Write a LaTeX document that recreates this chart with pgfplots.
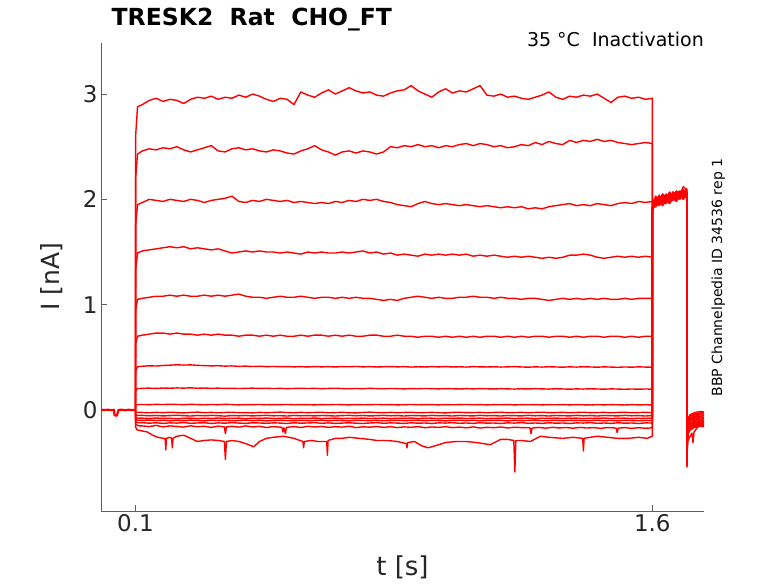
\documentclass[border=0pt]{standalone}
\usepackage{fontspec}
\setmainfont{DejaVu Sans}
\usepackage{pgfplots}
\usepackage{pgfplotstable}
\pgfplotsset{compat=1.18}
\definecolor{axgray}{RGB}{95,95,95}
\definecolor{txt}{RGB}{38,38,38}
\pgfplotsset{tr/.style={red, solid, line width=1.4pt, line join=round, mark=none}}
\pgfplotstableread{
t a b c d e f g h i j k l m n
0.1 0 0 0 0 0 0 0 0 0 0 0 0 0 0
0.1005 2.60 2.20 1.75 1.33 0.95 0.63 0.37 0.18 0.045 -0.02 -0.045 -0.07 -0.09 -0.11
0.106 2.88 2.43 1.95 1.49 1.05 0.70 0.41 0.203 0.051 -0.024 -0.053 -0.079 -0.098 -0.122
0.12 2.90 2.46 1.97 1.51 1.06 0.71 0.415 0.205 0.052 -0.024 -0.052 -0.078 -0.099 -0.121
0.14 2.94 2.48 2.00 1.52 1.07 0.72 0.419 0.207 0.050 -0.027 -0.056 -0.082 -0.096 -0.126
0.16 2.96 2.47 1.99 1.53 1.08 0.73 0.417 0.204 0.053 -0.023 -0.053 -0.077 -0.101 -0.122
0.18 2.93 2.49 1.98 1.54 1.08 0.73 0.422 0.208 0.051 -0.026 -0.057 -0.081 -0.098 -0.128
0.20 2.95 2.48 2.00 1.55 1.09 0.72 0.425 0.206 0.054 -0.022 -0.054 -0.079 -0.103 -0.123
0.22 2.94 2.50 1.99 1.54 1.08 0.73 0.429 0.209 0.052 -0.025 -0.051 -0.084 -0.099 -0.125
0.24 2.91 2.47 1.98 1.55 1.09 0.72 0.426 0.207 0.050 -0.028 -0.055 -0.080 -0.102 -0.120
0.26 2.95 2.45 2.00 1.53 1.08 0.72 0.428 0.210 0.053 -0.024 -0.058 -0.078 -0.097 -0.127
0.28 2.97 2.47 1.99 1.54 1.08 0.71 0.423 0.206 0.051 -0.021 -0.053 -0.083 -0.100 -0.124
0.30 2.96 2.49 1.97 1.53 1.09 0.72 0.421 0.208 0.049 -0.026 -0.056 -0.079 -0.104 -0.122
0.32 2.98 2.51 1.99 1.52 1.08 0.71 0.418 0.205 0.052 -0.023 -0.052 -0.081 -0.098 -0.129
0.34 2.95 2.46 2.00 1.53 1.09 0.72 0.420 0.207 0.050 -0.027 -0.055 -0.077 -0.101 -0.123
0.36 2.97 2.45 2.01 1.51 1.08 0.71 0.416 0.204 0.053 -0.024 -0.059 -0.082 -0.099 -0.126
0.38 2.96 2.48 2.03 1.49 1.09 0.71 0.418 0.206 0.051 -0.022 -0.054 -0.080 -0.103 -0.121
0.40 2.99 2.49 1.98 1.50 1.10 0.70 0.414 0.203 0.048 -0.026 -0.056 -0.078 -0.100 -0.125
0.42 2.97 2.47 1.97 1.51 1.08 0.71 0.416 0.205 0.051 -0.025 -0.053 -0.083 -0.097 -0.128
0.44 3.00 2.48 1.99 1.50 1.07 0.71 0.412 0.207 0.050 -0.028 -0.057 -0.079 -0.102 -0.122
0.46 2.98 2.46 1.98 1.51 1.07 0.70 0.415 0.204 0.052 -0.023 -0.054 -0.081 -0.099 -0.124
0.48 2.95 2.45 2.00 1.50 1.06 0.71 0.411 0.206 0.049 -0.026 -0.052 -0.077 -0.104 -0.127
0.50 2.93 2.47 1.99 1.50 1.07 0.70 0.413 0.203 0.051 -0.024 -0.056 -0.082 -0.100 -0.123
0.52 2.96 2.46 1.98 1.49 1.08 0.71 0.410 0.205 0.050 -0.021 -0.055 -0.080 -0.098 -0.125
0.54 2.95 2.44 1.99 1.50 1.07 0.70 0.412 0.202 0.052 -0.025 -0.058 -0.078 -0.101 -0.129
0.56 2.90 2.43 1.97 1.49 1.07 0.70 0.409 0.204 0.049 -0.027 -0.053 -0.084 -0.103 -0.122
0.58 3.02 2.46 1.98 1.48 1.08 0.71 0.411 0.206 0.051 -0.023 -0.056 -0.079 -0.099 -0.126
0.60 2.99 2.48 1.97 1.50 1.07 0.70 0.408 0.203 0.050 -0.026 -0.054 -0.081 -0.102 -0.124
0.62 2.97 2.51 1.96 1.49 1.06 0.71 0.412 0.205 0.048 -0.024 -0.057 -0.077 -0.100 -0.121
0.64 3.01 2.47 1.97 1.50 1.07 0.71 0.409 0.202 0.051 -0.022 -0.053 -0.082 -0.097 -0.127
0.66 3.04 2.45 1.96 1.49 1.07 0.70 0.411 0.204 0.049 -0.027 -0.055 -0.080 -0.103 -0.123
0.68 3.00 2.42 1.98 1.49 1.06 0.71 0.408 0.206 0.052 -0.025 -0.058 -0.078 -0.099 -0.128
0.70 3.03 2.45 1.97 1.50 1.07 0.70 0.412 0.203 0.050 -0.023 -0.054 -0.083 -0.101 -0.125
0.72 3.06 2.46 1.99 1.49 1.06 0.71 0.410 0.201 0.048 -0.026 -0.052 -0.079 -0.104 -0.122
0.74 3.03 2.44 1.98 1.50 1.07 0.70 0.413 0.204 0.051 -0.028 -0.056 -0.081 -0.098 -0.126
0.76 3.01 2.46 2.00 1.51 1.06 0.70 0.409 0.202 0.049 -0.024 -0.053 -0.077 -0.100 -0.129
0.78 3.02 2.45 1.99 1.49 1.06 0.71 0.411 0.205 0.050 -0.021 -0.057 -0.082 -0.102 -0.124
0.80 2.99 2.43 2.00 1.50 1.05 0.71 0.408 0.203 0.052 -0.025 -0.055 -0.080 -0.099 -0.121
0.82 2.98 2.45 1.98 1.48 1.04 0.70 0.410 0.201 0.049 -0.027 -0.052 -0.078 -0.103 -0.127
0.84 3.01 2.50 1.97 1.49 1.05 0.70 0.412 0.204 0.051 -0.023 -0.056 -0.083 -0.101 -0.123
0.86 3.03 2.49 1.95 1.47 1.04 0.71 0.409 0.202 0.048 -0.026 -0.054 -0.079 -0.098 -0.125
0.88 3.04 2.51 1.94 1.48 1.06 0.70 0.411 0.200 0.050 -0.024 -0.058 -0.081 -0.102 -0.128
0.90 3.08 2.50 1.93 1.47 1.07 0.70 0.407 0.203 0.052 -0.022 -0.053 -0.077 -0.100 -0.122
0.92 3.03 2.52 1.96 1.46 1.08 0.69 0.410 0.201 0.049 -0.027 -0.055 -0.082 -0.097 -0.126
0.94 3.00 2.50 1.98 1.48 1.07 0.70 0.408 0.204 0.051 -0.025 -0.057 -0.080 -0.103 -0.124
0.96 2.97 2.51 1.96 1.47 1.06 0.70 0.411 0.202 0.050 -0.023 -0.052 -0.078 -0.099 -0.129
0.98 3.02 2.49 1.95 1.48 1.07 0.69 0.409 0.200 0.048 -0.026 -0.056 -0.083 -0.101 -0.123
1.00 3.05 2.51 1.96 1.47 1.06 0.70 0.412 0.203 0.051 -0.028 -0.054 -0.079 -0.104 -0.125
1.02 3.01 2.50 1.95 1.48 1.06 0.69 0.408 0.201 0.049 -0.024 -0.058 -0.081 -0.100 -0.121
1.04 3.03 2.52 1.94 1.47 1.07 0.70 0.410 0.199 0.050 -0.022 -0.053 -0.077 -0.098 -0.127
1.06 3.02 2.53 1.95 1.48 1.07 0.69 0.407 0.202 0.052 -0.026 -0.055 -0.082 -0.102 -0.124
1.08 3.05 2.51 1.94 1.46 1.08 0.70 0.411 0.200 0.049 -0.025 -0.057 -0.080 -0.099 -0.128
1.10 3.08 2.53 1.93 1.47 1.07 0.69 0.409 0.203 0.051 -0.023 -0.052 -0.078 -0.103 -0.122
1.12 2.99 2.52 1.94 1.46 1.07 0.70 0.408 0.201 0.048 -0.027 -0.056 -0.083 -0.101 -0.126
1.14 2.98 2.50 1.93 1.47 1.06 0.70 0.410 0.199 0.050 -0.024 -0.054 -0.079 -0.098 -0.124
1.16 3.00 2.51 1.92 1.46 1.07 0.69 0.407 0.202 0.049 -0.022 -0.058 -0.081 -0.100 -0.129
1.18 2.97 2.49 1.93 1.45 1.06 0.70 0.409 0.200 0.051 -0.026 -0.053 -0.077 -0.104 -0.123
1.20 2.98 2.50 1.92 1.46 1.06 0.69 0.411 0.198 0.048 -0.025 -0.055 -0.082 -0.099 -0.125
1.22 2.96 2.52 1.93 1.45 1.05 0.70 0.408 0.201 0.050 -0.023 -0.057 -0.080 -0.102 -0.121
1.24 2.95 2.51 1.91 1.46 1.06 0.69 0.406 0.199 0.049 -0.027 -0.052 -0.078 -0.100 -0.127
1.26 2.97 2.54 1.92 1.45 1.06 0.70 0.409 0.202 0.051 -0.024 -0.056 -0.083 -0.097 -0.124
1.28 2.99 2.52 1.91 1.44 1.05 0.70 0.407 0.200 0.048 -0.022 -0.054 -0.079 -0.103 -0.128
1.30 3.02 2.55 1.93 1.45 1.04 0.69 0.410 0.198 0.050 -0.026 -0.058 -0.081 -0.101 -0.122
1.32 2.97 2.53 1.94 1.44 1.05 0.70 0.408 0.201 0.049 -0.025 -0.053 -0.077 -0.098 -0.126
1.34 2.95 2.52 1.95 1.45 1.06 0.70 0.406 0.199 0.051 -0.023 -0.055 -0.082 -0.102 -0.124
1.36 2.98 2.56 1.96 1.47 1.05 0.69 0.409 0.197 0.048 -0.027 -0.057 -0.080 -0.100 -0.129
1.38 2.97 2.54 1.94 1.47 1.06 0.70 0.407 0.200 0.050 -0.024 -0.052 -0.078 -0.099 -0.123
1.40 2.99 2.56 1.95 1.48 1.05 0.69 0.410 0.198 0.049 -0.022 -0.056 -0.083 -0.103 -0.125
1.42 2.98 2.55 1.94 1.47 1.06 0.70 0.408 0.201 0.047 -0.026 -0.054 -0.079 -0.101 -0.121
1.44 3.00 2.57 1.96 1.45 1.05 0.70 0.406 0.199 0.050 -0.025 -0.058 -0.081 -0.098 -0.127
1.46 2.96 2.55 1.95 1.44 1.06 0.69 0.409 0.197 0.048 -0.023 -0.053 -0.077 -0.102 -0.124
1.48 2.92 2.56 1.94 1.45 1.05 0.70 0.407 0.200 0.050 -0.027 -0.055 -0.082 -0.100 -0.128
1.50 2.97 2.54 1.96 1.46 1.05 0.70 0.405 0.198 0.049 -0.024 -0.057 -0.080 -0.104 -0.122
1.52 2.98 2.53 1.97 1.45 1.06 0.69 0.408 0.196 0.047 -0.022 -0.052 -0.078 -0.099 -0.126
1.54 2.96 2.52 1.96 1.46 1.05 0.70 0.406 0.199 0.050 -0.026 -0.056 -0.083 -0.101 -0.124
1.56 2.97 2.53 1.98 1.45 1.06 0.69 0.409 0.197 0.048 -0.025 -0.054 -0.079 -0.103 -0.129
1.58 2.95 2.54 1.97 1.46 1.06 0.70 0.407 0.199 0.049 -0.023 -0.058 -0.081 -0.100 -0.123
1.60 2.96 2.53 1.98 1.45 1.06 0.70 0.406 0.197 0.048 -0.026 -0.053 -0.077 -0.102 -0.125
1.60 1.90 1.92 1.89 1.91 1.88 1.90 1.93 1.89 1.91 1.90 1.88 1.92 1.90 1.89
1.603 1.95 1.97 1.93 1.96 1.92 1.95 1.94 1.98 1.92 1.96 1.94 1.93 1.97 1.95
1.61 2.02 1.96 1.99 1.97 2.01 1.94 1.98 2.03 1.93 2.00 1.97 1.95 2.02 1.99
1.62 1.98 2.01 1.94 2.04 1.95 2.00 1.96 1.99 1.97 1.95 2.02 1.99 1.96 2.03
1.63 2.05 1.97 2.00 1.99 1.98 2.03 2.01 2.05 1.94 2.03 1.98 1.96 2.04 1.97
1.64 2.01 2.03 2.04 2.02 1.96 1.97 1.99 2.02 1.99 1.98 2.04 2.01 2.00 2.05
1.65 1.99 2.06 1.97 2.06 2.02 2.01 2.05 1.98 1.96 2.04 1.99 1.97 2.06 2.00
1.66 2.07 2.00 2.03 2.01 1.99 2.06 2.00 2.07 2.01 2.00 2.05 2.03 2.01 2.04
1.67 2.04 2.07 2.00 2.05 2.04 1.99 2.03 2.02 1.98 2.06 2.01 2.00 2.07 1.99
1.68 2.02 2.02 2.06 2.08 2.00 2.05 2.07 2.04 2.03 2.01 2.07 2.04 2.03 2.06
1.69 2.09 2.05 2.02 2.04 2.06 2.02 2.02 2.09 2.00 2.07 2.03 2.01 2.08 2.02
1.70 2.06 2.10 2.05 2.07 2.03 2.08 2.06 2.05 2.04 2.03 2.09 2.06 2.04 2.07
1.7005 -0.52 -0.48 -0.54 -0.50 -0.46 -0.51 -0.49 -0.53 -0.47 -0.50 -0.45 -0.52 -0.48 -0.51
1.702 -0.12 -0.14 -0.13 -0.16 -0.15 -0.18 -0.17 -0.20 -0.19 -0.22 -0.21 -0.24 -0.23 -0.26
1.705 -0.07 -0.09 -0.08 -0.11 -0.10 -0.13 -0.12 -0.15 -0.14 -0.17 -0.16 -0.19 -0.18 -0.21
1.71 -0.045 -0.055 -0.06 -0.08 -0.085 -0.09 -0.10 -0.12 -0.12 -0.14 -0.14 -0.16 -0.16 -0.18
1.72 -0.03 -0.04 -0.05 -0.06 -0.07 -0.08 -0.09 -0.10 -0.11 -0.12 -0.13 -0.14 -0.15 -0.16
1.73 -0.02 -0.035 -0.04 -0.055 -0.06 -0.07 -0.085 -0.09 -0.10 -0.115 -0.12 -0.13 -0.14 -0.15
1.74 -0.015 -0.025 -0.04 -0.045 -0.06 -0.065 -0.075 -0.09 -0.095 -0.105 -0.12 -0.125 -0.135 -0.145
1.75 -0.02 -0.03 -0.035 -0.05 -0.055 -0.07 -0.08 -0.085 -0.10 -0.11 -0.115 -0.13 -0.14 -0.15
}\main
\pgfplotstableread{
t o
0.1 0
0.1005 -0.13
0.106 -0.15
0.12 -0.152
0.14 -0.158
0.16 -0.147
0.18 -0.161
0.20 -0.152
0.22 -0.157
0.24 -0.163
0.26 -0.151
0.28 -0.160
0.30 -0.155
0.32 -0.166
0.34 -0.154
0.358 -0.161
0.361 -0.225
0.364 -0.162
0.38 -0.155
0.40 -0.163
0.42 -0.152
0.44 -0.161
0.46 -0.156
0.48 -0.167
0.50 -0.158
0.525 -0.165
0.528 -0.21
0.531 -0.17
0.535 -0.225
0.538 -0.166
0.56 -0.158
0.58 -0.167
0.60 -0.155
0.62 -0.162
0.64 -0.157
0.66 -0.166
0.68 -0.159
0.70 -0.163
0.72 -0.155
0.74 -0.168
0.76 -0.160
0.78 -0.164
0.80 -0.157
0.82 -0.166
0.84 -0.159
0.86 -0.168
0.88 -0.161
0.90 -0.165
0.92 -0.158
0.94 -0.169
0.96 -0.162
0.98 -0.166
1.00 -0.159
1.02 -0.168
1.04 -0.163
1.06 -0.170
1.08 -0.161
1.10 -0.172
1.12 -0.165
1.14 -0.169
1.16 -0.162
1.18 -0.171
1.20 -0.164
1.22 -0.168
1.245 -0.170
1.248 -0.225
1.251 -0.172
1.27 -0.166
1.29 -0.173
1.31 -0.165
1.33 -0.171
1.35 -0.167
1.37 -0.174
1.39 -0.166
1.41 -0.172
1.43 -0.168
1.45 -0.175
1.47 -0.167
1.495 -0.172
1.498 -0.215
1.501 -0.173
1.52 -0.168
1.54 -0.175
1.56 -0.169
1.58 -0.174
1.60 -0.170
1.60 1.91
1.603 1.95
1.61 1.98
1.62 2.02
1.63 1.97
1.64 2.03
1.65 2.00
1.66 2.05
1.67 2.02
1.68 2.04
1.69 2.06
1.70 2.03
1.7005 -0.49
1.702 -0.28
1.705 -0.22
1.71 -0.19
1.72 -0.17
1.73 -0.16
1.74 -0.155
1.75 -0.16
}\tro
\pgfplotstableread{
t p
0.1 0
0.1 -0.16
0.105 -0.19
0.12 -0.20
0.135 -0.21
0.15 -0.24
0.165 -0.26
0.18 -0.27
0.186 -0.27
0.188 -0.38
0.190 -0.27
0.20 -0.26
0.205 -0.27
0.207 -0.36
0.209 -0.27
0.22 -0.25
0.24 -0.24
0.26 -0.27
0.28 -0.30
0.30 -0.29
0.32 -0.285
0.34 -0.29
0.358 -0.30
0.361 -0.47
0.364 -0.30
0.38 -0.29
0.40 -0.30
0.42 -0.32
0.443 -0.35
0.46 -0.30
0.48 -0.27
0.50 -0.26
0.53 -0.25
0.56 -0.27
0.586 -0.30
0.588 -0.36
0.590 -0.30
0.61 -0.29
0.63 -0.30
0.655 -0.30
0.657 -0.43
0.659 -0.29
0.68 -0.27
0.70 -0.27
0.72 -0.26
0.75 -0.27
0.78 -0.28
0.80 -0.29
0.83 -0.29
0.86 -0.30
0.886 -0.32
0.888 -0.36
0.890 -0.31
0.91 -0.30
0.93 -0.34
0.95 -0.36
0.97 -0.34
1.00 -0.31
1.03 -0.30
1.06 -0.30
1.09 -0.31
1.13 -0.33
1.16 -0.28
1.18 -0.28
1.198 -0.29
1.201 -0.59
1.204 -0.29
1.22 -0.29
1.246 -0.30
1.275 -0.25
1.30 -0.26
1.34 -0.27
1.37 -0.26
1.398 -0.27
1.400 -0.39
1.402 -0.27
1.42 -0.26
1.44 -0.25
1.47 -0.26
1.50 -0.27
1.53 -0.27
1.56 -0.26
1.585 -0.27
1.60 -0.25
1.60 1.89
1.603 1.94
1.61 2.00
1.62 1.97
1.63 2.04
1.64 2.00
1.65 2.07
1.66 2.03
1.67 2.08
1.68 2.05
1.69 2.12
1.70 2.09
1.7005 -0.54
1.702 -0.30
1.71 -0.25
1.715 -0.22
1.718 -0.31
1.721 -0.21
1.73 -0.17
1.74 -0.14
1.75 -0.12
}\trp
\begin{document}
\begin{tikzpicture}[x=1pt,y=1pt]
\useasboundingbox (0,0) rectangle (778,583);
\begin{axis}[
  at={(101pt,72pt)}, anchor=south west,
  width=603pt, height=468pt, scale only axis,
  xmin=0, xmax=1.75, ymin=-0.96, ymax=3.485,
  axis lines*=left,
  axis line style={axgray, line width=0.8pt},
  xtick={0.1,1.6}, xticklabels={0.1,1.6},
  ytick={0,1,2,3},
  tick style={axgray, line width=0.8pt},
  tick align=inside, major tick length=6pt,
  ticklabel style={font=\fontsize{23}{23}\selectfont, text=txt},
  /pgf/number format/assume math mode=true,
]
\addplot[tr, line width=2.2pt] coordinates {(0,0.003) (0.01,-0.002) (0.02,0.002) (0.03,-0.003) (0.038,0.001) (0.039,-0.05) (0.046,-0.055) (0.049,-0.02) (0.051,0.0) (0.06,0.002) (0.07,-0.003) (0.08,0.002) (0.09,-0.002) (0.1,0.001)};
\addplot[tr] table[x=t,y=a]{\main};
\addplot[tr] table[x=t,y=b]{\main};
\addplot[tr] table[x=t,y=c]{\main};
\addplot[tr] table[x=t,y=d]{\main};
\addplot[tr] table[x=t,y=e]{\main};
\addplot[tr] table[x=t,y=f]{\main};
\addplot[tr] table[x=t,y=g]{\main};
\addplot[tr] table[x=t,y=h]{\main};
\addplot[tr] table[x=t,y=i]{\main};
\addplot[tr] table[x=t,y=j]{\main};
\addplot[tr] table[x=t,y=k]{\main};
\addplot[tr] table[x=t,y=l]{\main};
\addplot[tr] table[x=t,y=m]{\main};
\addplot[tr] table[x=t,y=n]{\main};
\addplot[tr] table[x=t,y=o]{\tro};
\addplot[tr] table[x=t,y=p]{\trp};
\end{axis}
\node[anchor=base west, inner sep=0pt, font=\fontsize{23.5}{28}\selectfont\bfseries] at (111.5,557) {TRESK2\ \ Rat\ \ CHO\_FT};
\node[anchor=base east, inner sep=0pt, font=\fontsize{19}{22}\selectfont] at (704,536) {35 °C\ \ Inactivation};
\node[anchor=base, inner sep=0pt, rotate=90, font=\fontsize{14}{16}\selectfont] at (722,305.5) {BBP Channelpedia ID 34536 rep 1};
\node[anchor=base, inner sep=0pt, font=\fontsize{26}{30}\selectfont, text=txt] at (402.5,8) {t [s]};
\node[anchor=base, inner sep=0pt, rotate=90, font=\fontsize{25}{30}\selectfont, text=txt] at (59,306) {I [nA]};
\end{tikzpicture}
\end{document}
